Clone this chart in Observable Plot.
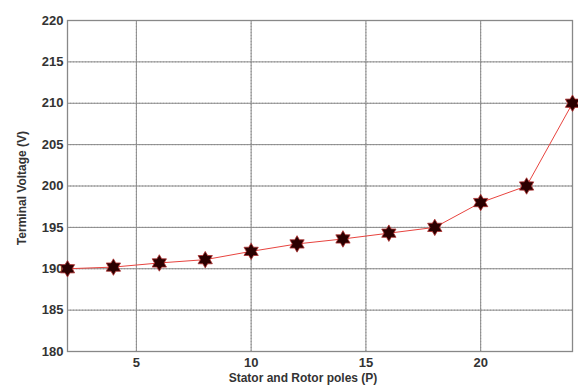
<!DOCTYPE html>
<html><head><meta charset="utf-8">
<script src="https://cdn.jsdelivr.net/npm/d3@7"></script>
<script src="https://cdn.jsdelivr.net/npm/@observablehq/plot@0.6"></script>
<style>
body{margin:0;background:#fff;}
#chart{position:relative;width:578px;height:387px;}
svg{font-family:"Liberation Sans",Arial,sans-serif;}
svg text{font-weight:bold;}
</style></head><body>
<div id="chart"></div>
<script>
const poles = [2, 4, 6, 8, 10, 12, 14, 16, 18, 20, 22, 24];
const voltage = [190.0, 190.2, 190.7, 191.1, 192.1, 193.0, 193.6, 194.3, 195.0, 198.0, 200.0, 210.0];
const xTicks = [5, 10, 15, 20];
const yTicks = [180, 185, 190, 195, 200, 205, 210, 215, 220];
const xLabel = "Stator and Rotor poles (P)";
const yLabel = "Terminal Voltage (V)";

const data = poles.map((p, i) => ({p, v: voltage[i]}));

const hexagram = {
  draw(ctx, size) {
    const r = Math.sqrt(size / 2.6);
    const ri = r * 0.58;
    for (let i = 0; i < 12; i++) {
      const a = -Math.PI / 2 + i * Math.PI / 6;
      const rr = i % 2 === 0 ? r : ri;
      const x = rr * Math.cos(a), y = rr * Math.sin(a);
      if (i === 0) ctx.moveTo(x, y); else ctx.lineTo(x, y);
    }
    ctx.closePath();
  }
};

const chart = Plot.plot({
  width: 578,
  height: 387,
  marginLeft: 67,
  marginRight: 6,
  marginTop: 20,
  marginBottom: 36,
  style: {fontFamily: "Liberation Sans, Arial, sans-serif", fontSize: "13px", fontWeight: "bold", color: "#333"},
  x: {domain: [2, 24], ticks: xTicks, label: null},
  y: {domain: [180, 220], ticks: yTicks, label: null},
  marks: [
    Plot.gridX(xTicks, {stroke: "#666", strokeOpacity: 0.6, strokeWidth: 1, strokeDasharray: "1,2"}),
    Plot.gridY(yTicks, {stroke: "#666", strokeOpacity: 0.6, strokeWidth: 1, strokeDasharray: "1,2"}),
    Plot.frame({stroke: "#888", strokeWidth: 1.3}),
    Plot.axisX(xTicks, {tickSize: 0, tickPadding: 6, fontSize: 13, fontWeight: "bold", fill: "#333"}),
    Plot.axisY(yTicks, {tickSize: 0, tickPadding: 4, fontSize: 13, fontWeight: "bold", fill: "#333"}),
    Plot.tickX(xTicks, {x: d => d, y1: 180, y2: 180.5, stroke: "#888"}),
    Plot.tickY(yTicks, {y: d => d, x1: 2, x2: 2.15, stroke: "#888"}),
    Plot.line(data, {x: "p", y: "v", stroke: "#e8443f", strokeWidth: 1}),
    Plot.dot(data, {x: "p", y: "v", symbol: hexagram, r: 7.5, fill: "#2a0000", stroke: "#b03030", strokeWidth: 0.8})
  ]
});
document.getElementById("chart").appendChild(chart);

const svg = d3.select(chart);
svg.append("text")
  .attr("x", 303).attr("y", 382)
  .attr("text-anchor", "middle")
  .attr("font-size", 12).attr("font-weight", "bold").attr("fill", "#333")
  .text(xLabel);
svg.append("text")
  .attr("transform", "translate(26,188) rotate(-90)")
  .attr("text-anchor", "middle")
  .attr("font-size", 12).attr("font-weight", "bold").attr("fill", "#333")
  .text(yLabel);
</script>
</body></html>
